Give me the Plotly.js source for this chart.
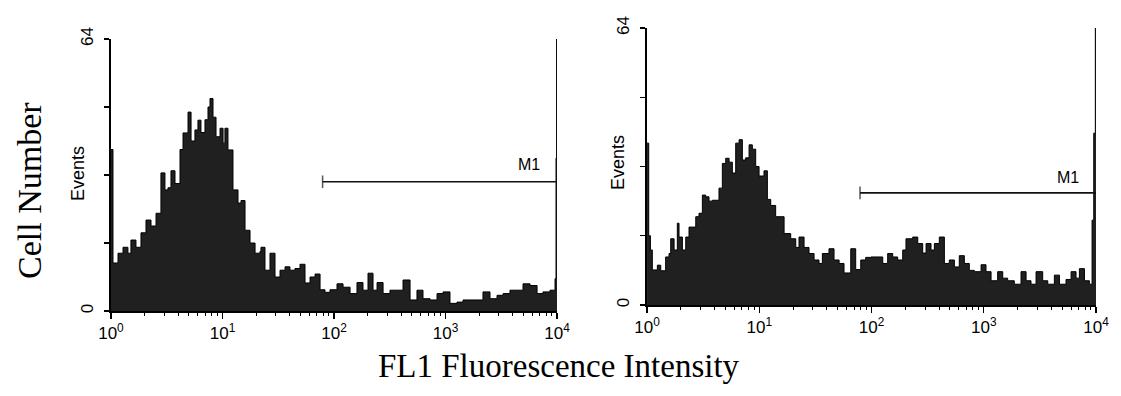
<!DOCTYPE html>
<html><head><meta charset="utf-8">
<script src="https://cdn.plot.ly/plotly-3.0.1.min.js"></script>
<style>html,body{margin:0;padding:0;background:#fff}#chart{width:1121px;height:396px}</style>
</head><body><div id="chart"></div>
<script>
// Histogram channels: log10 of FL1 intensity (decade position) and event counts
const leftLogFL1 = [0, 0.018, 0.063, 0.108, 0.152, 0.179, 0.224, 0.269, 0.314, 0.359, 0.404, 0.448, 0.484, 0.511, 0.538, 0.574, 0.619, 0.646, 0.691, 0.718, 0.753, 0.780, 0.807, 0.843, 0.870, 0.888, 0.915, 0.942, 0.978, 1.005, 1.022, 1.049, 1.067, 1.094, 1.139, 1.166, 1.202, 1.247, 1.292, 1.336, 1.345, 1.381, 1.426, 1.471, 1.516, 1.561, 1.605, 1.650, 1.695, 1.740, 1.785, 1.830, 1.875, 1.919, 1.964, 2.000, 2.027, 2.081, 2.144, 2.206, 2.260, 2.305, 2.350, 2.386, 2.440, 2.502, 2.565, 2.619, 2.682, 2.744, 2.798, 2.861, 2.924, 2.978, 3.040, 3.103, 3.157, 3.220, 3.283, 3.336, 3.399, 3.462, 3.516, 3.578, 3.641, 3.695, 3.758, 3.821, 3.874, 3.937, 3.982, 3.991, 3.996, 4.0];
const leftEvents = [38, 11.3, 13.6, 15, 13.6, 16.7, 15, 18.4, 21.4, 20, 23, 32.5, 28.5, 29, 33, 30, 38, 41.9, 46.8, 40, 42.6, 44.9, 42, 45, 48, 50, 45.6, 41, 43, 39.5, 43, 37.9, 37.9, 28.5, 25.4, 26, 19, 16, 13.6, 14, 15, 9.6, 13.6, 8, 9.6, 10.4, 9.6, 10, 11, 6.6, 8, 8.7, 5, 4.4, 5, 5, 6.4, 5.6, 4.1, 6.7, 4.9, 8.9, 4.9, 6.7, 4.1, 4.9, 4.9, 7.3, 2.6, 4.9, 2.9, 2.6, 4.1, 4.5, 1.8, 2.1, 2.6, 2.6, 2.6, 4.5, 2.9, 3.7, 4.1, 4.9, 4.9, 6.4, 6.0, 4.1, 4.5, 4.9, 7.6, 36, 64, 64];
const rightLogFL1 = [0, 0.015, 0.030, 0.047, 0.092, 0.122, 0.166, 0.196, 0.211, 0.241, 0.270, 0.285, 0.315, 0.345, 0.374, 0.404, 0.434, 0.463, 0.493, 0.523, 0.552, 0.582, 0.612, 0.641, 0.671, 0.701, 0.731, 0.760, 0.790, 0.820, 0.849, 0.879, 0.909, 0.938, 0.968, 0.998, 1.042, 1.072, 1.102, 1.146, 1.176, 1.221, 1.280, 1.325, 1.354, 1.399, 1.443, 1.488, 1.532, 1.562, 1.621, 1.666, 1.711, 1.755, 1.815, 1.859, 1.904, 1.948, 1.996, 2.055, 2.100, 2.144, 2.189, 2.233, 2.278, 2.307, 2.367, 2.412, 2.456, 2.486, 2.530, 2.560, 2.604, 2.649, 2.693, 2.738, 2.782, 2.827, 2.871, 2.916, 2.976, 3.020, 3.065, 3.124, 3.169, 3.213, 3.272, 3.332, 3.377, 3.421, 3.466, 3.525, 3.570, 3.629, 3.674, 3.733, 3.778, 3.822, 3.852, 3.897, 3.941, 3.965, 3.980, 3.994, 4.0];
const rightEvents = [37.4, 16, 12.7, 8.1, 9.2, 7.9, 11.1, 11.9, 15.3, 12.7, 18.9, 15.7, 12.7, 15.7, 18, 18, 20.4, 21.2, 25.4, 25, 24, 24.2, 24.2, 27, 32.7, 33.9, 33, 30.5, 37.4, 38.2, 33.5, 34, 37, 36, 32, 29.8, 31, 24.4, 23, 20.4, 20.4, 16.5, 15.3, 13.3, 15.7, 13.3, 11.9, 10.4, 9.6, 11.9, 13, 10.4, 9.6, 7.4, 13, 8.2, 10.4, 11, 11.1, 11.1, 9.6, 11.9, 11.1, 10.4, 12.7, 15.3, 15.7, 14.2, 12, 14.2, 12.7, 14.2, 15.7, 9.6, 10.4, 8.8, 11.4, 9.6, 8.0, 7.7, 9.3, 7.7, 5.6, 7.7, 6.2, 5.6, 4.8, 7.7, 5.6, 4.8, 7.7, 5.6, 4.8, 6.9, 4.8, 5.9, 7.7, 6.2, 8.4, 5.6, 4.8, 19.6, 39.7, 64, 64];

// M1 gate markers
const gateName = 'M1';
const gateRange = [79, 10000];
const leftGateLevel = 30.4;
const rightGateLevel = 25.9;

// Tick labels
const xTickVals = [1, 10, 100, 1000, 10000];
const xTickText = ['10<sup>0</sup>', '10<sup>1</sup>', '10<sup>2</sup>', '10<sup>3</sup>', '10<sup>4</sup>'];
const yTickVals = [0, 16, 32, 48, 64];
const yTickText = ['0', '', '', '', '64'];
const yTitle = 'Events';
const bigYTitle = 'Cell Number';
const bigXTitle = 'FL1 Fluorescence Intensity';

const toFL1 = arr => arr.map(v => Math.pow(10, v));
const minorTicks = [];
for (let d = 0; d < 4; d++) for (let k = 2; k <= 9; k++) minorTicks.push(k * Math.pow(10, d));

function histTrace(xs, ys, xa, ya) {
  return {
    x: toFL1(xs), y: ys, xaxis: xa, yaxis: ya, type: 'scatter', mode: 'lines',
    line: {shape: 'hv', color: '#000', width: 1}, fill: 'tozeroy', fillcolor: '#202020',
    hoverinfo: 'skip', showlegend: false
  };
}
function gateTrace(level, xa, ya) {
  return {
    x: gateRange, y: [level, level], xaxis: xa, yaxis: ya, type: 'scatter', mode: 'lines+markers',
    line: {color: '#111', width: 1.6},
    marker: {symbol: ['line-ns', 'line-ns'], size: [9, 0], line: {color: '#111', width: 1.5}},
    hoverinfo: 'skip', showlegend: false, cliponaxis: false
  };
}

const sans = 'Liberation Sans, Arial, sans-serif';
const serif = 'Liberation Serif, Times New Roman, serif';

function xAxis(domain, anchor) {
  return {
    domain: domain, anchor: anchor, type: 'log', range: [0, 4],
    showline: true, linecolor: '#000', linewidth: 1.6, mirror: false,
    showgrid: false, zeroline: false,
    ticks: 'outside', ticklen: 6, tickwidth: 1.3, tickcolor: '#000',
    tickmode: 'array', tickvals: xTickVals, ticktext: xTickText,
    tickfont: {family: sans, size: 17, color: '#000'},
    minor: {ticks: 'outside', ticklen: 3, tickwidth: 1, tickcolor: '#000', tickmode: 'array', tickvals: minorTicks, showgrid: false}
  };
}
function yAxis(domain, anchor) {
  return {
    domain: domain, anchor: anchor, range: [0, 64],
    showline: true, linecolor: '#000', linewidth: 1.6,
    showgrid: false, zeroline: false,
    ticks: 'outside', ticklen: 5, tickwidth: 1.3, tickcolor: '#000',
    tickmode: 'array', tickvals: yTickVals, ticktext: yTickText, tickangle: -90,
    tickfont: {family: sans, size: 17, color: '#000'},
    ticklabelstandoff: 5
  };
}

const data = [
  histTrace(leftLogFL1, leftEvents, 'x', 'y'),
  gateTrace(leftGateLevel, 'x', 'y'),
  histTrace(rightLogFL1, rightEvents, 'x2', 'y2'),
  gateTrace(rightGateLevel, 'x2', 'y2')
];

const layout = {
  width: 1121, height: 396,
  margin: {l: 0, r: 0, t: 0, b: 0},
  paper_bgcolor: '#fff', plot_bgcolor: '#fff',
  showlegend: false,
  xaxis: xAxis([0.0990, 0.4969], 'y'),
  yaxis: yAxis([0.2146, 0.9015], 'x'),
  xaxis2: xAxis([0.5772, 0.9777], 'y2'),
  yaxis2: yAxis([0.2298, 0.9293], 'x2'),
  annotations: [
    {xref: 'x', yref: 'y', x: 3.866, y: leftGateLevel, text: gateName, showarrow: false,
     xanchor: 'right', yanchor: 'bottom', yshift: 7, font: {family: sans, size: 16, color: '#000'}},
    {xref: 'x2', yref: 'y2', x: 3.866, y: rightGateLevel, text: gateName, showarrow: false,
     xanchor: 'right', yanchor: 'bottom', yshift: 5, font: {family: sans, size: 16, color: '#000'}},
    {xref: 'paper', yref: 'paper', x: 78 / 1121, y: 1 - 173 / 396, text: yTitle, textangle: -90,
     showarrow: false, xanchor: 'center', yanchor: 'middle', font: {family: sans, size: 18, color: '#000'}},
    {xref: 'paper', yref: 'paper', x: 618 / 1121, y: 1 - 163 / 396, text: yTitle, textangle: -90,
     showarrow: false, xanchor: 'center', yanchor: 'middle', font: {family: sans, size: 18, color: '#000'}},
    {xref: 'paper', yref: 'paper', x: 30 / 1121, y: 1 - 191 / 396, text: bigYTitle, textangle: -90,
     showarrow: false, xanchor: 'center', yanchor: 'middle', font: {family: serif, size: 34, color: '#000'}},
    {xref: 'paper', yref: 'paper', x: 559 / 1121, y: 1 - 366 / 396, text: bigXTitle,
     showarrow: false, xanchor: 'center', yanchor: 'middle', font: {family: serif, size: 33, color: '#000'}}
  ]
};

Plotly.newPlot('chart', data, layout, {staticPlot: true, displayModeBar: false});
</script>
</body></html>
